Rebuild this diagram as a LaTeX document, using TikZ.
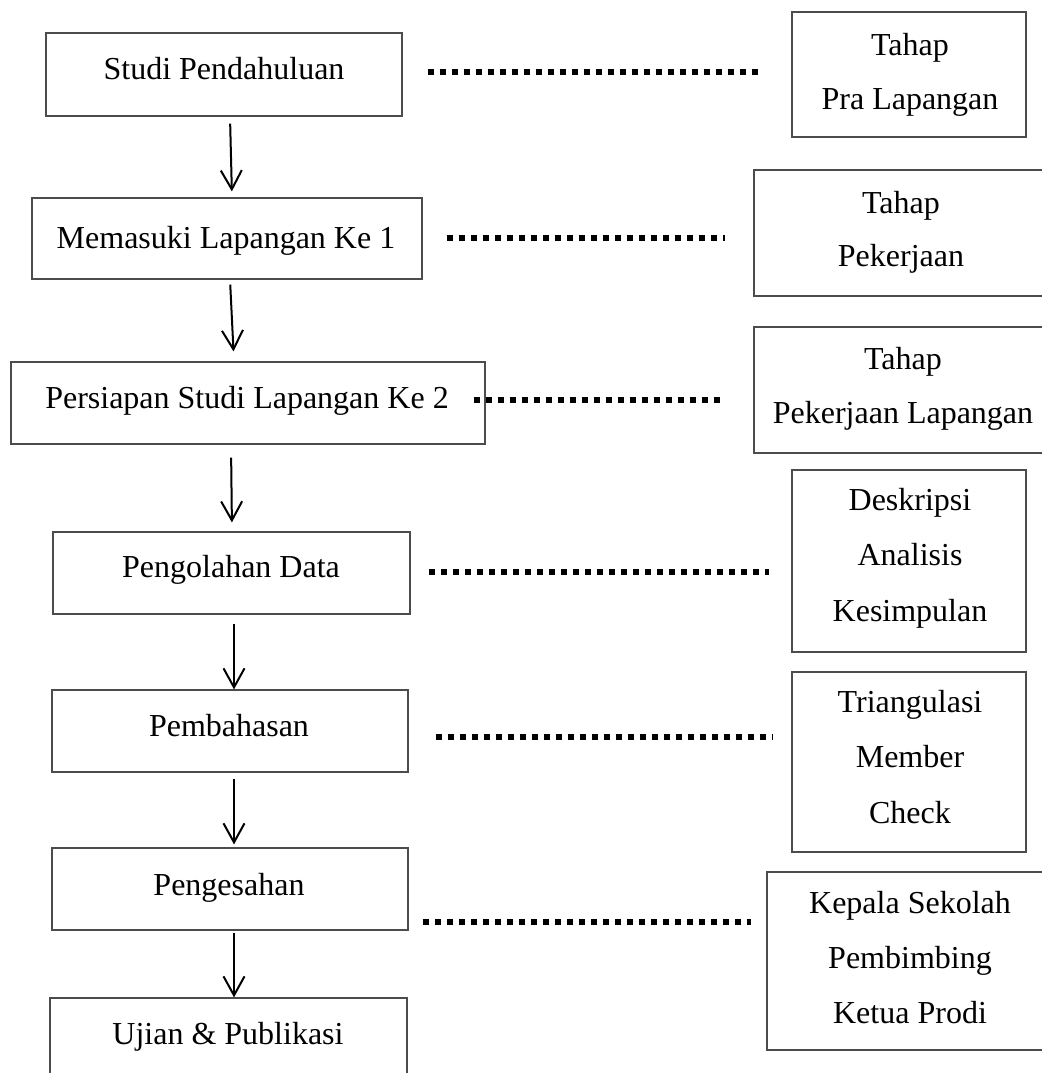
\documentclass[tikz,border=0pt]{standalone}
\usepackage{fontspec}
\setmainfont{Liberation Serif}
\usetikzlibrary{arrows.meta}
\begin{document}
\begin{tikzpicture}[x=1pt,y=-1pt,
  box/.style={draw=black!70, line width=1.2pt, inner sep=0pt, fill=none},
  txt/.style={font=\fontsize{32}{40}\selectfont, anchor=base, inner sep=0pt},
  arr/.style={line width=2pt, -{Straight Barb[length=19pt,width=21pt,line width=2pt]}},
  dotline/.style={line width=6.5pt, dash pattern=on 6pt off 6pt}]
\useasboundingbox (0,0) rectangle (1041,1073);

% left boxes
\node[box, minimum width=356pt, minimum height=83pt] (b1) at (224,74.5) {};
\node[box, minimum width=390pt, minimum height=81pt] (b2) at (227,238.5) {};
\node[box, minimum width=474pt, minimum height=82pt] (b3) at (248,403) {};
\node[box, minimum width=357pt, minimum height=82pt] (b4) at (231.5,573) {};
\node[box, minimum width=356pt, minimum height=82pt] (b5) at (230,731) {};
\node[box, minimum width=356pt, minimum height=82pt] (b6) at (230,889) {};
\node[box, minimum width=357pt, minimum height=82pt] (b7) at (228.5,1039) {};

% right boxes
\node[box, minimum width=234pt, minimum height=125pt] (r1) at (909,74.5) {};
\node[box, minimum width=296pt, minimum height=126pt] (r2) at (902,233) {};
\node[box, minimum width=296pt, minimum height=126pt] (r3) at (902,390) {};
\node[box, minimum width=234pt, minimum height=182pt] (r4) at (909,561) {};
\node[box, minimum width=234pt, minimum height=180pt] (r5) at (909,762) {};
\node[box, minimum width=283pt, minimum height=178pt] (r6) at (908.5,961) {};

% left texts
\node[txt] (t1) at (224,80) {Studi Pendahuluan};
\node[txt] (t2) at (226,248) {Memasuki Lapangan Ke 1};
\node[txt] (t3) at (247,408) {Persiapan Studi Lapangan Ke 2};
\node[txt] (t4) at (231,577) {Pengolahan Data};
\node[txt] (t5) at (229,736) {Pembahasan};
\node[txt] (t6) at (229,895) {Pengesahan};
\node[txt] (t7) at (228,1044) {Ujian \& Publikasi};

% right texts
\node[txt] (s1a) at (910,56) {Tahap};
\node[txt] (s1b) at (910,109) {Pra Lapangan};
\node[txt] (s2a) at (901,213) {Tahap};
\node[txt] (s2b) at (901,266) {Pekerjaan};
\node[txt] (s3a) at (903,369) {Tahap};
\node[txt] (s3b) at (903,423) {Pekerjaan Lapangan};
\node[txt] (s4a) at (910,510) {Deskripsi};
\node[txt] (s4b) at (910,565) {Analisis};
\node[txt] (s4c) at (910,621) {Kesimpulan};
\node[txt] (s5a) at (910,712) {Triangulasi};
\node[txt] (s5b) at (910,767) {Member};
\node[txt] (s5c) at (910,823) {Check};
\node[txt] (s6a) at (910,913) {Kepala Sekolah};
\node[txt] (s6b) at (910,968) {Pembimbing};
\node[txt] (s6c) at (910,1023) {Ketua Prodi};

% arrows
\draw[arr, shorten <=7pt, shorten >=6pt] ([xshift=6pt]b1.south) -- ([xshift=5pt]b2.north);
\draw[arr, shorten <=5pt, shorten >=10pt] ([xshift=3pt]b2.south) -- ([xshift=-14pt]b3.north);
\draw[arr, shorten <=13pt, shorten >=9pt] ([xshift=-17pt]b3.south) -- ([xshift=0.5pt]b4.north);
\draw[arr, shorten <=9pt] ([xshift=2.5pt]b4.south) -- ([xshift=4pt]b5.north);
\draw[arr, shorten <=6pt, shorten >=3pt] ([xshift=4pt]b5.south) -- ([xshift=4pt]b6.north);
\draw[arr, shorten <=2pt] ([xshift=4pt]b6.south) -- ([xshift=5.5pt]b7.north);

% dotted connectors
\draw[dotline] ([xshift=25pt,yshift=2.5pt]b1.east) -- ([xshift=-30pt,yshift=2.5pt]r1.west);
\draw[dotline] ([xshift=24pt,yshift=0.5pt]b2.east) -- ([xshift=-28pt,yshift=-5pt]r2.west);
\draw[dotline] ([xshift=-12pt,yshift=3pt]b3.east) -- ([xshift=-30pt,yshift=-10pt]r3.west);
\draw[dotline] ([xshift=18pt,yshift=1pt]b4.east) -- ([xshift=-22pt,yshift=-11pt]r4.west);
\draw[dotline] ([xshift=27pt,yshift=-6pt]b5.east) -- ([xshift=-18pt,yshift=25pt]r5.west);
\draw[dotline] ([xshift=14pt,yshift=-33pt]b6.east) -- ([xshift=-15pt,yshift=39pt]r6.west);
\end{tikzpicture}
\end{document}
